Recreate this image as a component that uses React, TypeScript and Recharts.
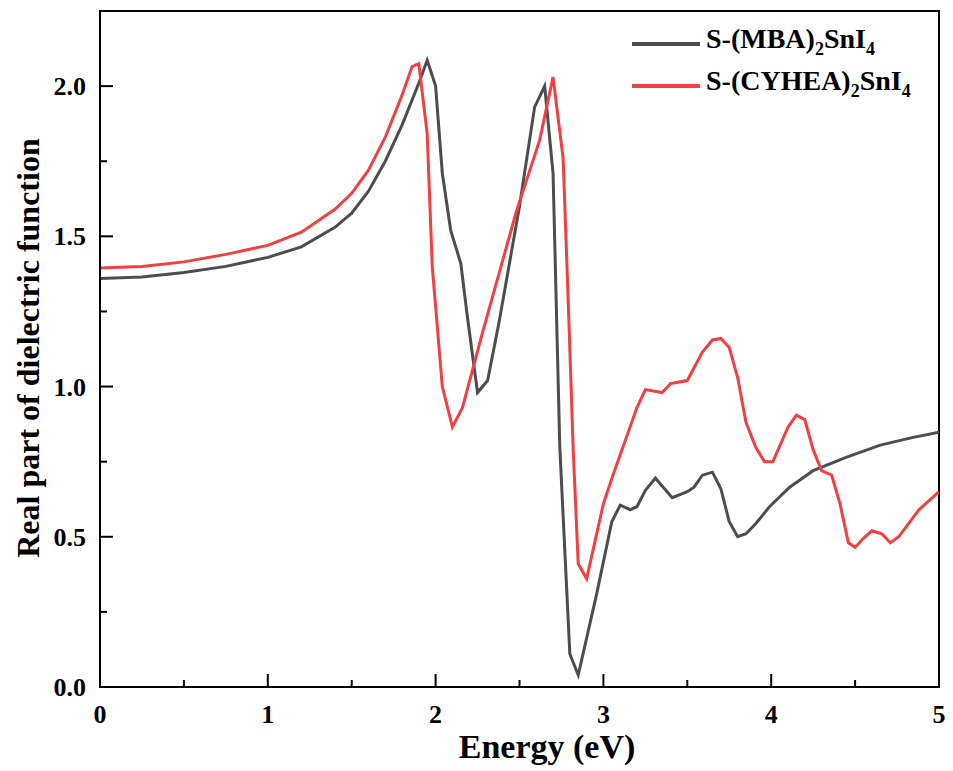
import { Line, LineChart, ReferenceArea, XAxis, YAxis } from "recharts"

const mbaEnergy = [0, 0.25, 0.5, 0.75, 1.0, 1.2, 1.4, 1.5, 1.6, 1.7, 1.8, 1.85, 1.9, 1.95, 2.0, 2.04, 2.09, 2.15, 2.19, 2.25, 2.31, 2.38, 2.5, 2.59, 2.65, 2.7, 2.74, 2.8, 2.85, 2.96, 3.05, 3.1, 3.16, 3.2, 3.25, 3.31, 3.41, 3.5, 3.54, 3.59, 3.65, 3.7, 3.75, 3.8, 3.85, 3.91, 3.99, 4.11, 4.25, 4.45, 4.65, 4.84, 5.0]
const mbaValue = [1.36, 1.365, 1.38, 1.4, 1.43, 1.465, 1.53, 1.577, 1.65, 1.75, 1.87, 1.94, 2.01, 2.086, 2.0, 1.71, 1.52, 1.41, 1.23, 0.98, 1.02, 1.22, 1.6, 1.93, 2.0, 1.71, 0.8, 0.11, 0.04, 0.31, 0.55, 0.605, 0.59, 0.6, 0.655, 0.695, 0.63, 0.65, 0.665, 0.705, 0.715, 0.66, 0.55, 0.5, 0.51, 0.545, 0.6, 0.665, 0.72, 0.765, 0.805, 0.83, 0.848]

const cyheaEnergy = [0, 0.25, 0.5, 0.75, 1.0, 1.2, 1.4, 1.5, 1.6, 1.7, 1.8, 1.86, 1.9, 1.95, 1.98, 2.04, 2.1, 2.16, 2.28, 2.48, 2.62, 2.7, 2.76, 2.79, 2.82, 2.85, 2.9, 3.0, 3.06, 3.2, 3.25, 3.35, 3.4, 3.5, 3.59, 3.65, 3.7, 3.75, 3.8, 3.85, 3.91, 3.96, 4.01, 4.1, 4.15, 4.2, 4.25, 4.3, 4.36, 4.41, 4.46, 4.5, 4.55, 4.6, 4.66, 4.71, 4.76, 4.88, 5.0]
const cyheaValue = [1.395, 1.4, 1.415, 1.44, 1.47, 1.514, 1.59, 1.643, 1.72, 1.83, 1.97, 2.065, 2.075, 1.84, 1.4, 1.0, 0.865, 0.93, 1.18, 1.58, 1.82, 2.03, 1.76, 1.29, 0.79, 0.41, 0.36, 0.61, 0.71, 0.93, 0.99, 0.98, 1.01, 1.02, 1.115, 1.155, 1.16, 1.13, 1.03, 0.88, 0.795, 0.75, 0.75, 0.865, 0.905, 0.89, 0.79, 0.72, 0.705, 0.61, 0.48, 0.465, 0.495, 0.52, 0.51, 0.48, 0.5, 0.59, 0.65]

const xTicks = [0, 0.5, 1, 1.5, 2, 2.5, 3, 3.5, 4, 4.5, 5]
const yTicks = [0, 0.25, 0.5, 0.75, 1, 1.25, 1.5, 1.75, 2]

const mbaData = mbaEnergy.map((x, i) => ({ x, y: mbaValue[i] }))
const cyheaData = cyheaEnergy.map((x, i) => ({ x, y: cyheaValue[i] }))

const FONT = '"Liberation Serif", "Times New Roman", serif'
const GRAY = "#4d4d4d"
const RED = "#f04141"

function XTick({ x, y, payload }: any) {
  const major = Number.isInteger(payload.value)
  return (
    <g>
      <line x1={x} x2={x} y1={y} y2={y - (major ? 13 : 7)} stroke="#000" strokeWidth={2} />
      {major && (
        <text x={x} y={y + 36} textAnchor="middle" fontFamily={FONT} fontWeight="bold" fontSize={26} fill="#000">
          {payload.value}
        </text>
      )}
    </g>
  )
}

function YTick({ x, y, payload }: any) {
  const major = payload.value * 2 === Math.round(payload.value * 2)
  return (
    <g>
      <line x1={x} x2={x + (major ? 13 : 7)} y1={y} y2={y} stroke="#000" strokeWidth={2} />
      {major && (
        <text x={x - 14} y={y + 9} textAnchor="end" fontFamily={FONT} fontWeight="bold" fontSize={26} fill="#000">
          {payload.value.toFixed(1)}
        </text>
      )}
    </g>
  )
}

function LegendRow({ color, name, top }: { color: string; name: string; top: number }) {
  return (
    <div style={{ position: "absolute", left: 632, top, display: "flex", alignItems: "center" }}>
      <div style={{ width: 68, height: 4, background: color }} />
      <span style={{ marginLeft: 6, fontFamily: FONT, fontWeight: "bold", fontSize: 28, lineHeight: "28px", whiteSpace: "nowrap" }}>
        S-({name})<sub style={{ fontSize: 18 }}>2</sub>SnI<sub style={{ fontSize: 18 }}>4</sub>
      </span>
    </div>
  )
}

export default function App() {
  return (
    <div style={{ position: "absolute", left: 0, top: 0, width: 953, height: 771, background: "#fff" }}>
      <LineChart width={953} height={771} margin={{ top: 11, right: 14, bottom: 54, left: 40 }}>
        <XAxis
          type="number"
          dataKey="x"
          domain={[0, 5]}
          ticks={xTicks}
          interval={0}
          height={30}
          tickSize={0}
          tickMargin={0}
          tickLine={false}
          axisLine={{ stroke: "#000", strokeWidth: 2 }}
          tick={<XTick />}
          allowDataOverflow
        />
        <YAxis
          type="number"
          dataKey="y"
          domain={[0, 2.25]}
          ticks={yTicks}
          interval={0}
          width={60}
          tickSize={0}
          tickMargin={0}
          tickLine={false}
          axisLine={{ stroke: "#000", strokeWidth: 2 }}
          tick={<YTick />}
          allowDataOverflow
        />
        <ReferenceArea x1={0} x2={5} y1={0} y2={2.25} fill="none" stroke="#000" strokeWidth={2} ifOverflow="visible" />
        <Line data={mbaData} dataKey="y" type="linear" stroke={GRAY} strokeWidth={3} dot={false} isAnimationActive={false} />
        <Line data={cyheaData} dataKey="y" type="linear" stroke={RED} strokeWidth={3} dot={false} isAnimationActive={false} />
      </LineChart>
      <div
        style={{ position: "absolute", left: 334, top: 727, width: 426, textAlign: "center", fontFamily: FONT, fontWeight: "bold", fontSize: 34, lineHeight: "40px" }}
      >
        Energy (eV)
      </div>
      <div
        style={{
          position: "absolute",
          left: 28 - 250,
          top: 348 - 20,
          width: 500,
          textAlign: "center",
          fontFamily: FONT,
          fontWeight: "bold",
          fontSize: 32,
          lineHeight: "40px",
          transform: "rotate(-90deg)",
          whiteSpace: "nowrap",
        }}
      >
        Real part of dielectric function
      </div>
      <LegendRow color={GRAY} name="MBA" top={25} />
      <LegendRow color={RED} name="CYHEA" top={67} />
    </div>
  )
}
